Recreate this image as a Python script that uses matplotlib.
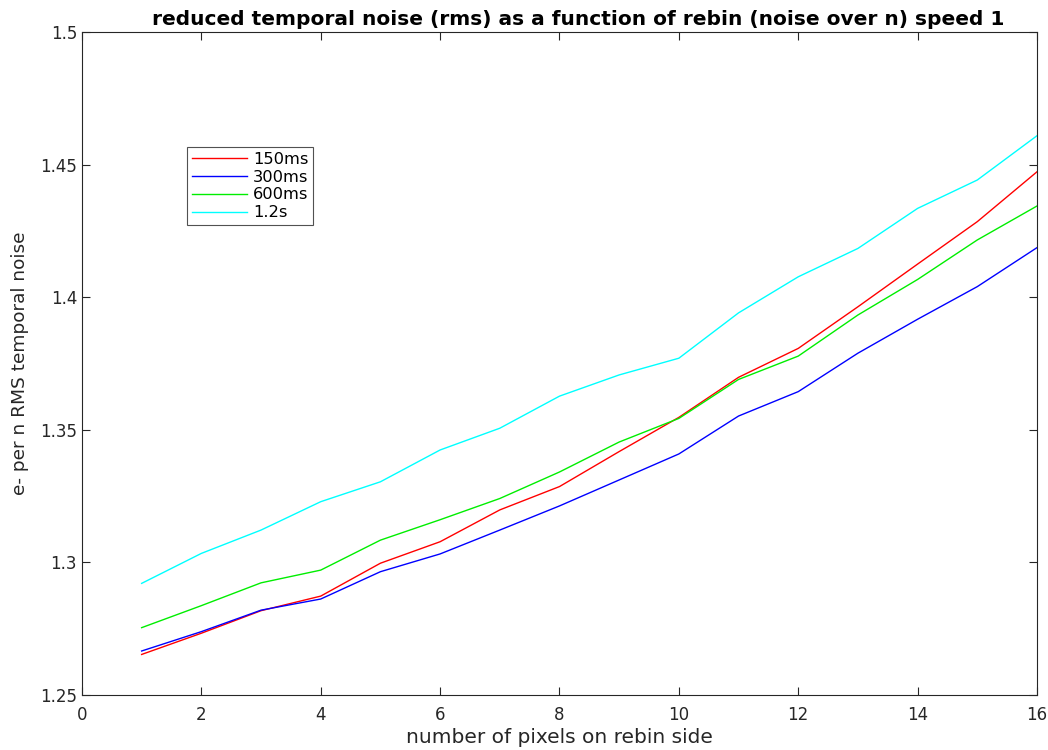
import numpy as np
import matplotlib
matplotlib.use('Agg')
import matplotlib.pyplot as plt

# rebin side (pixels)
rebin = [1, 2, 3, 4, 5, 6, 7, 8, 9, 10, 11, 12, 13, 14, 15, 16]

# e- per n RMS temporal noise
noise_150ms = [1.2653, 1.2733, 1.2818, 1.2873, 1.2997, 1.3078, 1.3198, 1.3286,
               1.3418, 1.3547, 1.3698, 1.3807, 1.3964, 1.4125, 1.4285, 1.4473]
noise_300ms = [1.2666, 1.2739, 1.2820, 1.2862, 1.2965, 1.3032, 1.3122, 1.3213,
               1.3311, 1.3409, 1.3552, 1.3644, 1.3789, 1.3917, 1.4040, 1.4187]
noise_600ms = [1.2754, 1.2837, 1.2923, 1.2971, 1.3084, 1.3161, 1.3241, 1.3341,
               1.3454, 1.3543, 1.3690, 1.3778, 1.3933, 1.4067, 1.4216, 1.4344]
noise_1200ms = [1.2921, 1.3034, 1.3122, 1.3229, 1.3304, 1.3424, 1.3506, 1.3627,
                1.3707, 1.3770, 1.3941, 1.4077, 1.4184, 1.4335, 1.4442, 1.4609]

labels = ['150ms', '300ms', '600ms', '1.2s']
colors = ['#ff0000', '#0000ff', '#00ee00', '#00ffff']
series = [noise_150ms, noise_300ms, noise_600ms, noise_1200ms]

plt.rcParams['font.family'] = ['DejaVu Sans']

fig = plt.figure(figsize=(10.48, 7.5), dpi=100)
ax = fig.add_axes([0.0782, 0.0733, 0.9113, 0.884])

for ys, c, lab in zip(series, colors, labels):
	ax.plot(rebin, ys, color=c, linewidth=1.0, label=lab)

ax.set_xlim(0, 16)
ax.set_ylim(1.25, 1.5)
ax.set_xticks(np.arange(0, 17, 2))
ax.set_yticks([1.25, 1.3, 1.35, 1.4, 1.45, 1.5])
ax.set_yticklabels(['1.25', '1.3', '1.35', '1.4', '1.45', '1.5'])

edge = '#262626'
for sp in ax.spines.values():
	sp.set_color(edge)
	sp.set_linewidth(0.8)
ax.tick_params(direction='in', length=6, width=0.8, colors=edge,
               labelcolor='#262626', labelsize=12,
               top=True, right=True)
ax.tick_params(axis='x', pad=8)

ax.set_title('reduced temporal noise (rms) as a function of rebin (noise over n) speed 1',
             fontsize=14.5, fontweight='bold', pad=5, x=0.52)
ax.set_xlabel('number of pixels on rebin side', fontsize=14.5, color='#262626', labelpad=3)
ax.set_ylabel('e- per n RMS temporal noise', fontsize=13.3, color='#262626', labelpad=8)

leg = ax.legend(loc='upper left', bbox_to_anchor=(0.11, 0.8265), fontsize=11.7,
                frameon=True, fancybox=False, handlelength=3.4, borderpad=0.3,
                labelspacing=0.17, handletextpad=0.35, borderaxespad=0)
leg.get_frame().set_edgecolor(edge)
leg.get_frame().set_linewidth(0.8)

fig.savefig('out.png', dpi=100)
